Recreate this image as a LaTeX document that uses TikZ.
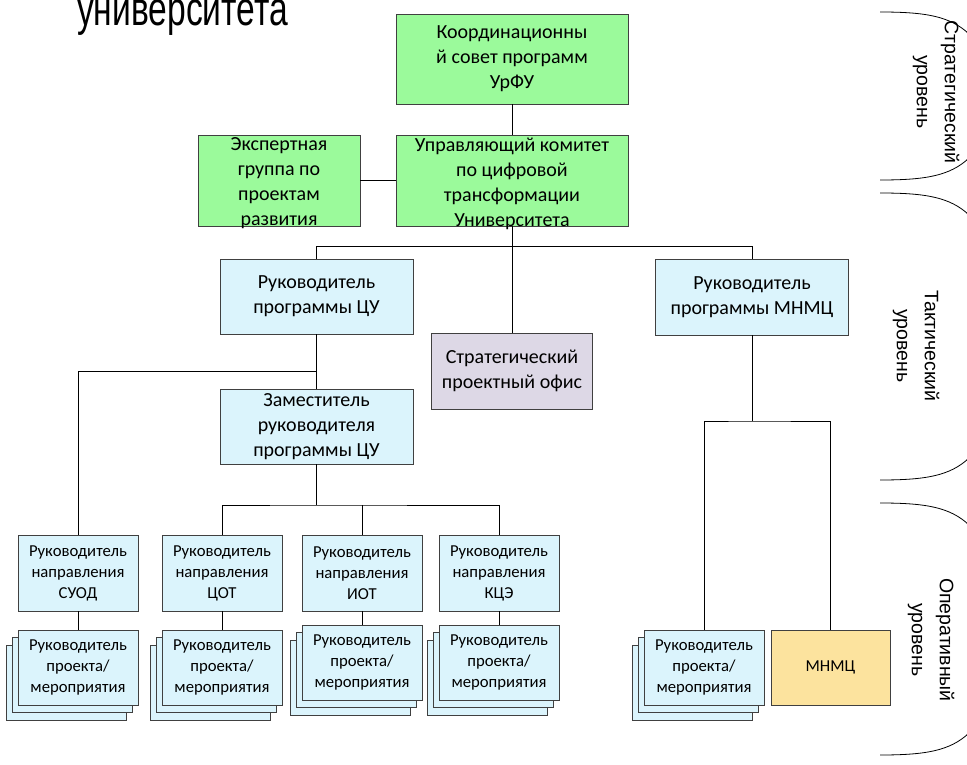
\documentclass[tikz,border=0pt]{standalone}
\usepackage{fontspec}
\setmainfont{Carlito}
\newfontfamily\arialfont{Liberation Sans}
\usepackage{tikz}

\definecolor{grn}{HTML}{9BFA9B}
\definecolor{lblue}{HTML}{DBF4FC}
\definecolor{lilac}{HTML}{DDD8E6}
\definecolor{ylw}{HTML}{FCE39E}

\tikzset{
  box/.style 2 args={draw=black!75, line width=0.8pt, minimum width=#1pt, minimum height=#2pt,
    inner sep=0pt, align=center, font=\fontsize{20}{25}\selectfont},
  smallbox/.style 2 args={box={#1}{#2}, font=\fontsize{16.7}{21}\selectfont},
  boxtext/.style={align=center, inner sep=0pt, font=\fontsize{20}{25}\selectfont, yshift=-3pt},
  link/.style={line width=1pt},
  sheet/.style={draw=black!75, line width=0.8pt, fill=lblue},
  lvl/.style={line width=0.8pt},
  lvltext/.style={font=\arialfont\fontsize{19.5}{28}\selectfont, rotate=-90, align=center}
}

\begin{document}
\begin{tikzpicture}[x=1pt,y=-1pt]
            \useasboundingbox (0,0) rectangle (967,765);
            \node[anchor=base west, inner sep=0pt, xscale=0.7, font=\arialfont\fontsize{48}{50}\selectfont] (title) at (77,26) {университета};
            % strategic level
            \node[box={232}{90}, fill=grn] (sovet) at (512,59) {Координационны\\й совет программ\\УрФУ};
            \node[box={232}{91}, fill=grn, label={[boxtext]center:Управляющий комитет\\по цифровой\\трансформации\\Университета}] (upr) at (512,180.5) {};
            \node[box={162}{91}, fill=grn, label={[boxtext]center:Экспертная\\группа по\\проектам\\развития}] (expert) at (279,180.5) {};
            % tactical level
            \node[box={193}{75}, fill=lblue] (headcu) at (316.5,296.5) {Руководитель\\программы ЦУ};
            \node[box={193}{75}, fill=lblue] (deputy) at (316.5,426.5) {Заместитель\\руководителя\\программы ЦУ};
            \node[box={161}{76}, fill=lilac] (office) at (512,371) {Стратегический\\проектный офис};
            \node[box={193}{76}, fill=lblue] (headmn) at (752,297) {Руководитель\\программы МНМЦ};
            % operational level
            \node[smallbox={120}{76}, fill=lblue] (suod) at (78,573) {Руководитель\\направления\\СУОД};
            \node[smallbox={120}{76}, fill=lblue] (cot) at (222,573) {Руководитель\\направления\\ЦОТ};
            \node[smallbox={120}{76}, fill=lblue] (iot) at (362,573) {Руководитель\\направления\\ИОТ};
            \node[smallbox={120}{76}, fill=lblue] (kce) at (499,573) {Руководитель\\направления\\КЦЭ};
            \foreach \x/\y in {78/667.5,222/667.5,362/662.5,499/662.5,704/667.5} {
                \draw[sheet] (\x-72,\y-22.5) rectangle ++(120,75);
                \draw[sheet] (\x-66,\y-30) rectangle ++(120,75);
            }
            \node[smallbox={120}{75}, fill=lblue] (prsuod) at (78,667.5) {Руководитель\\проекта/\\мероприятия};
            \node[smallbox={120}{75}, fill=lblue] (prcot) at (222,667.5) {Руководитель\\проекта/\\мероприятия};
            \node[smallbox={120}{75}, fill=lblue] (priot) at (362,662.5) {Руководитель\\проекта/\\мероприятия};
            \node[smallbox={120}{75}, fill=lblue] (prkce) at (499,662.5) {Руководитель\\проекта/\\мероприятия};
            \node[smallbox={120}{75}, fill=lblue] (prmn) at (704,667.5) {Руководитель\\проекта/\\мероприятия};
            \node[smallbox={119}{75}, fill=ylw] (mnmc) at (830.5,667.5) {МНМЦ};
            % connectors
            \coordinate (jcu) at (316.5,371);
            \coordinate (jdep) at (316.5,505);
            \coordinate (jmn) at (752,421);
            \draw[link] (sovet.south) -- (upr.north);
            \draw[link] (expert.east) -- (upr.west);
            \draw[link] (upr.south) -- (office.north);
            \draw[link] (headcu.north) -- ++(0,-12) -| (headmn.north);
            \draw[link] (headcu.south) -- (deputy.north);
            \draw[link] (suod.north) |- (jcu);
            \draw[link] (deputy.south) -- (jdep);
            \draw[link] (cot.north) |- (jdep) -| (kce.north);
            \draw[link] (iot.north) -- (iot.north |- jdep);
            \foreach \d in {suod,cot,iot,kce}
                \draw[link] (\d.south) -- (pr\d.north);
            \draw[link] (headmn.south) -- (jmn);
            \draw[link] (prmn.north) |- (jmn) -| (mnmc.north);
            % levels
            \foreach \t/\b in {12/180,193/480,503/755} {
                \draw[lvl] (880,\t) .. controls (925,\t) and (950,\t+4) .. (969,\t+22);
                \draw[lvl] (880,\b) .. controls (925,\b) and (950,\b-4) .. (969,\b-22);
            }
            \node[lvltext] (strat) at (936,92) {Стратегический\\уровень};
            \node[lvltext] (tact) at (916,346) {Тактический\\уровень};
            \node[lvltext] (oper) at (931,640) {Оперативный\\уровень};
        \end{tikzpicture}
\end{document}
